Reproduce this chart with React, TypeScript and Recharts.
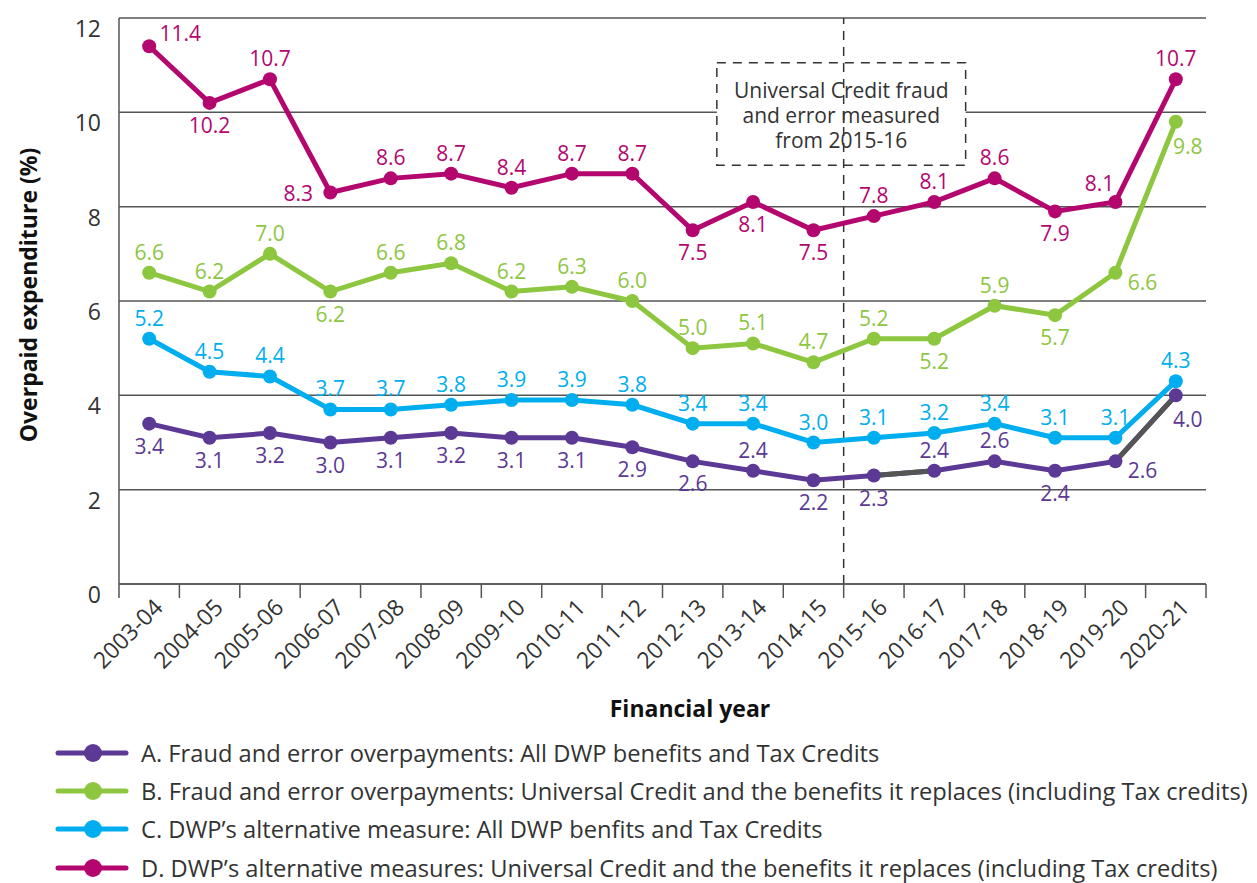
import {
  LineChart,
  Line,
  XAxis,
  YAxis,
  CartesianGrid,
  ReferenceLine,
  ReferenceArea,
  LabelList,
  Legend,
} from "recharts";

const years = [
  "2003-04", "2004-05", "2005-06", "2006-07", "2007-08", "2008-09",
  "2009-10", "2010-11", "2011-12", "2012-13", "2013-14", "2014-15",
  "2015-16", "2016-17", "2017-18", "2018-19", "2019-20", "2020-21",
];

const seriesA = [3.4, 3.1, 3.2, 3.0, 3.1, 3.2, 3.1, 3.1, 2.9, 2.6, 2.4, 2.2, 2.3, 2.4, 2.6, 2.4, 2.6, 4.0];
const seriesB = [6.6, 6.2, 7.0, 6.2, 6.6, 6.8, 6.2, 6.3, 6.0, 5.0, 5.1, 4.7, 5.2, 5.2, 5.9, 5.7, 6.6, 9.8];
const seriesC = [5.2, 4.5, 4.4, 3.7, 3.7, 3.8, 3.9, 3.9, 3.8, 3.4, 3.4, 3.0, 3.1, 3.2, 3.4, 3.1, 3.1, 4.3];
const seriesD = [11.4, 10.2, 10.7, 8.3, 8.6, 8.7, 8.4, 8.7, 8.7, 7.5, 8.1, 7.5, 7.8, 8.1, 8.6, 7.9, 8.1, 10.7];

// points of series A joined by a grey segment instead of purple
const greyLinkIdx = [12, 13, 16, 17];

const yTicks = [0, 2, 4, 6, 8, 10, 12];

const legendLabels = [
  "A. Fraud and error overpayments: All DWP benefits and Tax Credits",
  "B. Fraud and error overpayments: Universal Credit and the benefits it replaces (including Tax credits)",
  "C. DWP\u2019s alternative measure: All DWP benfits and Tax Credits",
  "D. DWP\u2019s alternative measures: Universal Credit and the benefits it replaces (including Tax credits)",
];

// label placement per point (t = above, b = below, etc.)
const posA = ["b", "b", "b", "b", "b", "b", "b", "b", "b", "b", "t", "b", "b", "t", "t", "b", "r", "br"];
const posB = ["t", "t", "t", "b", "t", "t", "t", "t", "t", "t", "t", "t", "t", "b", "t", "b", "r", "br"];
const posC = ["t", "t", "t", "t", "t", "t", "t", "t", "t", "t", "t", "t", "t", "t", "t", "t", "t", "t"];
const posD = ["tr", "b", "t", "l", "t", "t", "t", "t", "t", "b", "b", "b", "t", "t", "t", "b", "tl", "t"];

const PURPLE = "#5b3995";
const GREEN = "#8dc63f";
const CYAN = "#00aeef";
const MAGENTA = "#b3076f";
const GREY = "#555555";
const TEXT = "#333333";
const FONT = "'Open Sans', sans-serif";

const W = 1257;
const H = 883;
const PLOT_LEFT = 119;
const PLOT_RIGHT = 51;
const BAND = (W - PLOT_LEFT - PLOT_RIGHT) / years.length;

const offsets: Record<string, [number, number]> = {
  t: [0, -21],
  b: [0, 22],
  l: [-32, 0],
  r: [27, 9],
  tr: [31, -13],
  tl: [-16, -19],
  br: [12, 24],
};

const data = years.map((y, i) => ({
  idx: i,
  year: y,
  a: seriesA[i],
  b: seriesB[i],
  c: seriesC[i],
  d: seriesD[i],
  aGrey: greyLinkIdx.includes(i) ? seriesA[i] : null,
}));

const makeLabel = (positions: string[], color: string) => (props: any) => {
  const { x, y, value, index } = props;
  const [dx, dy] = offsets[positions[index]] || offsets.t;
  return (
    <text
      x={x + dx}
      y={y + dy}
      textAnchor="middle"
      dominantBaseline="central"
      fill={color}
      fontSize={21}
      fontFamily={FONT}
    >
      {Number(value).toFixed(1)}
    </text>
  );
};

const XTick = (props: any) => {
  const { x, y, payload, index } = props;
  const left = x - BAND / 2;
  const right = x + BAND / 2;
  const ax = x + 15;
  const ay = y + 25;
  return (
    <g>
      <line x1={left} y1={y} x2={left} y2={y + 14} stroke={GREY} strokeWidth={1.5} />
      {index === years.length - 1 && (
        <line x1={right} y1={y} x2={right} y2={y + 14} stroke={GREY} strokeWidth={1.5} />
      )}
      <text
        x={ax}
        y={ay}
        textAnchor="end"
        transform={`rotate(-45, ${ax}, ${ay})`}
        fill={TEXT}
        fontSize={23}
        fontFamily={FONT}
      >
        {years[payload.value]}
      </text>
    </g>
  );
};

const YTick = (props: any) => {
  const { y, payload } = props;
  return (
    <text
      x={101}
      y={y + 10}
      textAnchor="end"
      dominantBaseline="central"
      fill={TEXT}
      fontSize={23}
      fontFamily={FONT}
    >
      {payload.value}
    </text>
  );
};

const BoxLabel = (props: any) => {
  const { viewBox } = props;
  const cx = viewBox.x + viewBox.width / 2;
  const top = viewBox.y;
  const lines = ["Universal Credit fraud", "and error measured", "from 2015-16"];
  return (
    <g>
      {lines.map((l, i) => (
        <text
          key={i}
          x={cx}
          y={top + 27 + i * 25}
          textAnchor="middle"
          dominantBaseline="central"
          fill={TEXT}
          fontSize={21}
          fontFamily={FONT}
        >
          {l}
        </text>
      ))}
    </g>
  );
};

const legendColors = [PURPLE, GREEN, CYAN, MAGENTA];

const LegendBox = () => (
  <div style={{ position: "relative", width: W, height: 148, fontFamily: FONT }}>
    {legendLabels.map((label, i) => (
      <div
        key={i}
        style={{
          position: "absolute",
          left: 0,
          top: i * 38.2 + 5,
          height: 26,
          display: "flex",
          alignItems: "center",
          whiteSpace: "nowrap",
        }}
      >
        <svg width={141} height={26} style={{ display: "block" }}>
          <line x1={58} y1={13} x2={126} y2={13} stroke={legendColors[i]} strokeWidth={5} strokeLinecap="round" />
          <circle cx={93} cy={13} r={9} fill={legendColors[i]} />
        </svg>
        <span style={{ fontSize: 23.7, lineHeight: "26px", color: TEXT }}>{label}</span>
      </div>
    ))}
  </div>
);

export default function App() {
  return (
    <div style={{ position: "absolute", left: 0, top: 0, background: "#fff" }}>
      <LineChart
        width={W}
        height={H}
        data={data}
        margin={{ top: 18, right: PLOT_RIGHT, left: 0, bottom: 0 }}
      >
        <CartesianGrid horizontal vertical={false} stroke={GREY} strokeWidth={1.5} />
        <XAxis
          type="number"
          dataKey="idx"
          domain={[-0.5, 17.5]}
          ticks={years.map((_, i) => i)}
          interval={0}
          height={151}
          tickLine={false}
          tickSize={0}
          tickMargin={0}
          axisLine={{ stroke: GREY, strokeWidth: 1.5 }}
          tick={<XTick />}
          label={() => (
            <text
              x={690}
              y={708}
              textAnchor="middle"
              dominantBaseline="central"
              fill="#111"
              fontSize={23}
              fontWeight="bold"
              fontFamily={FONT}
            >
              Financial year
            </text>
          )}
        />
        <YAxis
          type="number"
          domain={[0, 12]}
          ticks={yTicks}
          width={PLOT_LEFT}
          tickLine={false}
          axisLine={{ stroke: GREY, strokeWidth: 1.5 }}
          tick={<YTick />}
          label={() => (
            <text
              x={28}
              y={295}
              transform="rotate(-90, 28, 295)"
              textAnchor="middle"
              dominantBaseline="central"
              fill="#111"
              fontSize={23}
              fontWeight="bold"
              fontFamily={FONT}
            >
              Overpaid expenditure (%)
            </text>
          )}
        />
        <Legend
          verticalAlign="bottom"
          align="left"
          layout="horizontal"
          wrapperStyle={{ left: 0, top: 735, bottom: "auto" }}
          content={() => <LegendBox />}
        />
        <ReferenceLine x={11.5} stroke={TEXT} strokeWidth={1.5} strokeDasharray="9 7" />
        <ReferenceArea
          x1={9.4}
          x2={13.52}
          y1={8.88}
          y2={11.05}
          fill="#ffffff"
          fillOpacity={1}
          stroke={TEXT}
          strokeWidth={1.5}
          strokeDasharray="9 7"
          label={<BoxLabel />}
        />
        <Line
          dataKey="d"
          stroke={MAGENTA}
          strokeWidth={5}
          dot={{ r: 7, fill: MAGENTA, stroke: MAGENTA, strokeWidth: 0 }}
          activeDot={false}
          isAnimationActive={false}
        >
          <LabelList dataKey="d" content={makeLabel(posD, MAGENTA)} />
        </Line>
        <Line
          dataKey="b"
          stroke={GREEN}
          strokeWidth={5}
          dot={{ r: 7, fill: GREEN, stroke: GREEN, strokeWidth: 0 }}
          activeDot={false}
          isAnimationActive={false}
        >
          <LabelList dataKey="b" content={makeLabel(posB, GREEN)} />
        </Line>
        <Line
          dataKey="c"
          stroke={CYAN}
          strokeWidth={5}
          dot={{ r: 7, fill: CYAN, stroke: CYAN, strokeWidth: 0 }}
          activeDot={false}
          isAnimationActive={false}
        >
          <LabelList dataKey="c" content={makeLabel(posC, CYAN)} />
        </Line>
        <Line
          dataKey="a"
          stroke={PURPLE}
          strokeWidth={5}
          dot={false}
          activeDot={false}
          isAnimationActive={false}
        />
        <Line
          dataKey="aGrey"
          stroke={GREY}
          strokeWidth={5}
          dot={false}
          activeDot={false}
          connectNulls={false}
          isAnimationActive={false}
        />
        <Line
          dataKey="a"
          stroke="none"
          dot={{ r: 7, fill: PURPLE, stroke: PURPLE, strokeWidth: 0 }}
          activeDot={false}
          isAnimationActive={false}
        >
          <LabelList dataKey="a" content={makeLabel(posA, PURPLE)} />
        </Line>
      </LineChart>
    </div>
  );
}
